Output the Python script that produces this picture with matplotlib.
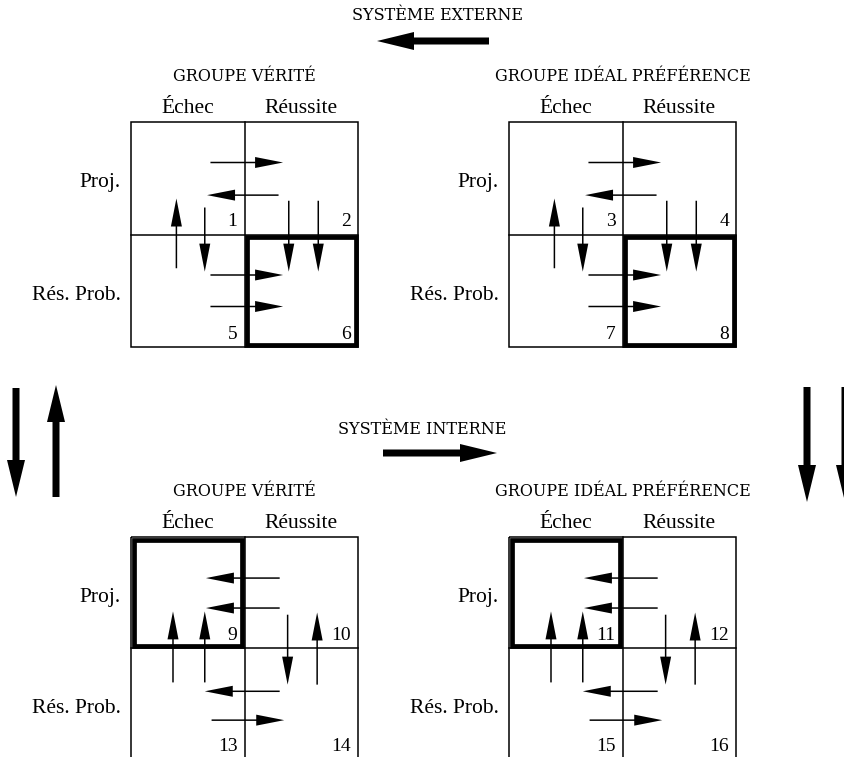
import matplotlib.pyplot as plt
from matplotlib.patches import Rectangle

# --- diagram content ---
system_titles = ['SYSTÈME EXTERNE', 'SYSTÈME INTERNE']
system_dirs = [-1, 1]                      # external points left, internal right
group_titles = ['GROUPE VÉRITÉ', 'GROUPE IDÉAL PRÉFÉRENCE']
col_labels = ['Échec', 'Réussite']
row_labels = ['Proj.', 'Rés. Prob.']
cell_numbers = [
    [[[1, 2], [5, 6]], [[3, 4], [7, 8]]],
    [[[9, 10], [13, 14]], [[11, 12], [15, 16]]],
]
highlight = [(1, 1), (0, 0)]               # (row, col) of the framed cell per system

# arrows inside a grid, in cell units (x0, y0, x1, y1), y downward
arrows_ext = [
    (0.70, 0.36, 1.34, 0.36), (1.30, 0.65, 0.67, 0.65),
    (0.40, 1.30, 0.40, 0.68), (0.65, 0.76, 0.65, 1.33),
    (1.39, 0.70, 1.39, 1.33), (1.65, 0.70, 1.65, 1.33),
    (0.70, 1.36, 1.34, 1.36), (0.70, 1.64, 1.34, 1.64),
]
arrows_int = [
    (1.31, 0.37, 0.66, 0.37), (1.31, 0.64, 0.66, 0.64),
    (0.37, 1.31, 0.37, 0.67), (0.65, 1.31, 0.65, 0.67),
    (1.38, 0.70, 1.38, 1.33), (1.64, 1.33, 1.64, 0.68),
    (1.31, 1.39, 0.65, 1.39), (0.71, 1.65, 1.35, 1.65),
]
grid_arrows = [arrows_ext, arrows_int]
side_dirs = [[1, -1], [1, 1]]              # left pair, right pair (+1 = down)

# --- layout (pixels) ---
W, H = 844, 757
grid_x = [131, 509]
grid_y = [122, 537]
cell_w = 113.5
cell_h = [112.5, 111]
side_x = [[16, 56], [807, 845]]

fig = plt.figure(figsize=(W / 100, H / 100), dpi=100)
ax = fig.add_axes([0, 0, 1, 1])
ax.set_xlim(0, W)
ax.set_ylim(H, 0)
ax.axis('off')

serif = 'Liberation Serif'
caps = 'DejaVu Serif'

def big_arrow(x0, y0, x1, y1):
    ax.arrow(x0, y0, x1 - x0, y1 - y0, width=7, head_width=18, head_length=37,
             length_includes_head=True, fc='black', ec='black', lw=0)

for s in range(2):
    gy = grid_y[s]
    ch = cell_h[s]
    # system title + arrow
    ty = [20, 434][s]
    ay = [41, 453][s]
    ax.text(437 if s == 0 else 422, ty, system_titles[s], family=caps,
            fontsize=11.5, ha='center', va='baseline')
    xa, xb = (383, 497)
    if system_dirs[s] < 0:
        xa, xb = 489, 377
    big_arrow(xa, ay, xb, ay)

    for g in range(2):
        gx = grid_x[g]
        ax.text(gx + cell_w, gy - 41, group_titles[g], family=caps,
                fontsize=11.5, ha='center', va='baseline')
        for c in range(2):
            ax.text(gx + (c + 0.5) * cell_w, gy - 9, col_labels[c], family=serif,
                    fontsize=15.5, ha='center', va='baseline')
        for r in range(2):
            ax.text(gx - 10, gy + r * ch + 65, row_labels[r], family=serif,
                    fontsize=15.5, ha='right', va='baseline')
        # grid
        ax.add_patch(Rectangle((gx, gy), 2 * cell_w, 2 * ch, fill=False,
                               ec='black', lw=1.1))
        ax.plot([gx + cell_w, gx + cell_w], [gy, gy + 2 * ch], color='black', lw=1.1)
        ax.plot([gx, gx + 2 * cell_w], [gy + ch, gy + ch], color='black', lw=1.1)
        hr, hc = highlight[s]
        ax.add_patch(Rectangle((gx + hc * cell_w + 2.5, gy + hr * ch + 2.5),
                               cell_w - 5, ch - 5, fill=False, ec='black', lw=3.4,
                               joinstyle='miter'))
        # cell numbers
        for r in range(2):
            for c in range(2):
                ax.text(gx + (c + 1) * cell_w - 7, gy + (r + 1) * ch - 8,
                        str(cell_numbers[s][g][r][c]), family=serif,
                        fontsize=14, ha='right', va='baseline')
        # arrows
        for x0, y0, x1, y1 in grid_arrows[s]:
            px0, py0 = gx + x0 * cell_w, gy + y0 * ch
            px1, py1 = gx + x1 * cell_w, gy + y1 * ch
            ax.arrow(px0, py0, px1 - px0, py1 - py0, width=1.5, head_width=11,
                     head_length=28, length_includes_head=True,
                     fc='black', ec='black', lw=0)

# vertical arrows between the two systems
for side in range(2):
    for k in range(2):
        x = side_x[side][k]
        top, bot = (388, 497) if side == 0 else (387, 502)
        if side_dirs[side][k] > 0:
            big_arrow(x, top, x, bot)
        else:
            big_arrow(x, bot, x, top - 3)

fig.savefig('out.png', dpi=100, facecolor='white')
